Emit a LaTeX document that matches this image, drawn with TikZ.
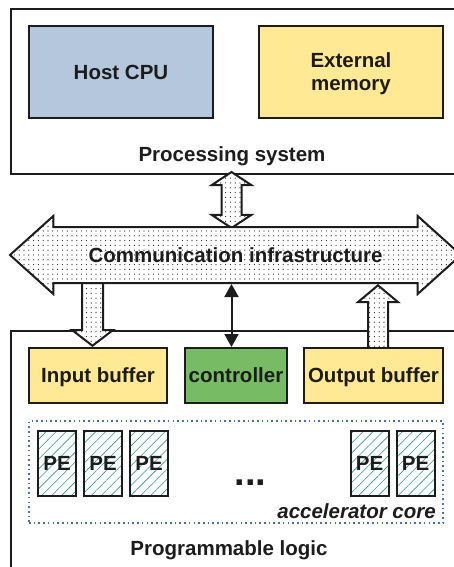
\documentclass[tikz,border=0pt]{standalone}
\usepackage{fontspec}
\setmainfont{Liberation Sans}
\usetikzlibrary{shapes.arrows,patterns.meta,arrows.meta}

\definecolor{cpublue}{HTML}{B4C7DC}
\definecolor{memgold}{HTML}{FFE994}
\definecolor{ctrlgreen}{HTML}{77BC65}
\definecolor{hatchgreen}{HTML}{2A9D78}
\definecolor{coreblue}{HTML}{3F6FC0}
\definecolor{ink}{HTML}{1C1C1C}

\begin{document}
\begin{tikzpicture}[x=1pt,y=-1pt]
    \tikzstyle{every node}=[font=\fontsize{20.5}{23}\selectfont\bfseries, text=ink, text depth=0pt]
    \tikzstyle{block}=[rectangle, draw=ink, line width=2pt]
    \tikzstyle{region}=[rectangle, draw=ink, line width=2pt, anchor=north west]
    \tikzstyle{dotfill}=[draw=ink, line width=2pt, fill=white, postaction={pattern={Dots[distance=4.8pt, radius=0.6pt]}, pattern color=ink}]
    \tikzstyle{pe}=[block, minimum width=38pt, minimum height=65pt, inner sep=0pt, pattern={Lines[angle=45, distance=7pt, line width=0.6pt]}, pattern color=hatchgreen]

    \useasboundingbox (0,0) rectangle (454,567);

    % the two big regions
    \node[region, minimum width=470pt, minimum height=165pt] (procsys) at (10,8) {};
    \node[region, minimum width=470pt, minimum height=260pt] (proglogic) at (10,330) {};

    \node (host) [block, fill=cpublue, minimum width=184pt, minimum height=92pt] at (121,72) {Host CPU};
    \node (extmem) [block, fill=memgold, minimum width=184pt, minimum height=92pt, align=center] at (351,72) {External\\memory};
    \node (pslabel) at (232,154) {Processing system};

    % fat arrows
    \node (psbus) [dotfill, double arrow, rotate=90, double arrow tip angle=113, double arrow head extend=10pt, minimum height=56pt, inner ysep=9pt, inner xsep=0pt] at (231.5,200) {};
    \node (inarrow) [dotfill, single arrow, rotate=-90, anchor=tip, single arrow tip angle=105, single arrow head extend=10pt, minimum height=64pt, inner ysep=9.5pt, inner xsep=0pt] at (92.5,347) {};
    \node (outarrow) [dotfill, single arrow, rotate=90, anchor=tip, single arrow tip angle=100, single arrow head extend=10pt, minimum height=63pt, inner ysep=9pt, inner xsep=0pt] at (378,284) {};

    \node (comm) [dotfill, double arrow, double arrow tip angle=84, double arrow head extend=11pt, minimum height=451pt, text height=14pt, inner ysep=20pt, inner xsep=0pt] at (235.5,255) {Communication infrastructure};

    \node (inbuf) [block, fill=memgold, minimum width=138pt, minimum height=55pt, inner sep=0pt] at (98,375.5) {Input buffer};
    \node (ctrl) [block, fill=ctrlgreen, minimum width=102pt, minimum height=55pt, inner sep=0pt] at (236,375.5) {controller};
    \node (outbuf) [block, fill=memgold, minimum width=139pt, minimum height=55pt, inner sep=0pt] at (373.5,375.5) {Output buffer};

    \draw[ink, line width=2pt, {Triangle[length=13pt,width=14pt]}-{Triangle[length=13pt,width=14pt]}] (comm.south -| psbus.center) -- (ctrl.north -| psbus.center);

    % accelerator core
    \node (core) [draw=coreblue, line width=1.6pt, dash pattern=on 1.6pt off 3.1pt, minimum width=414pt, minimum height=102pt] at (236,472) {};
    \foreach \i/\x in {1/57,2/103,3/149,4/369.5,5/415.5}
        \node (pe\i) [pe] at (\x,463.5) {PE};
    \node (gap) [font=\fontsize{38}{38}\selectfont\bfseries] at (250.5,483) {...};
    \node (corelabel) [anchor=south east, font=\fontsize{20.5}{23}\selectfont\bfseries\itshape] at ([xshift=-4.5pt, yshift=1.7pt]core.south east) {accelerator core};

    \node (pllabel) at (229,548.5) {Programmable logic};
\end{tikzpicture}
\end{document}
